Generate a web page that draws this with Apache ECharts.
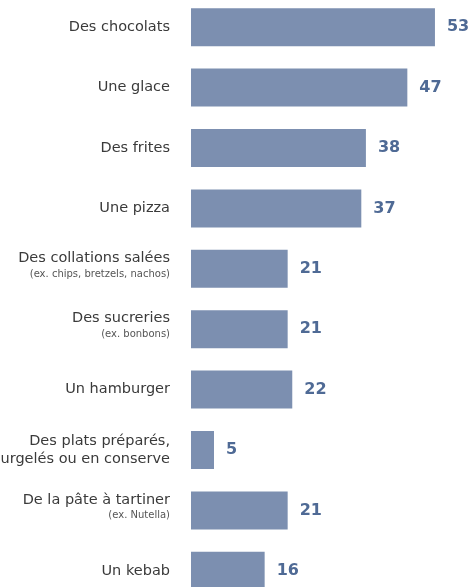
<!DOCTYPE html>
<html>
<head>
<meta charset="utf-8">
<script src="https://cdn.jsdelivr.net/npm/echarts@6/dist/echarts.min.js"></script>
<style>
  html, body { margin: 0; padding: 0; background: #ffffff; }
  #chart { width: 475px; height: 587px; }
</style>
</head>
<body>
<div id="chart"></div>
<script>
// Food items, top to bottom
const categories = [
  'Des chocolats',
  'Une glace',
  'Des frites',
  'Une pizza',
  'Des collations salées',
  'Des sucreries',
  'Un hamburger',
  'Des plats préparés,\nsurgelés ou en conserve',
  'De la pâte à tartiner',
  'Un kebab'
];
// Small print shown under some item names
const notes = [
  '', '', '', '',
  '(ex. chips, bretzels, nachos)',
  '(ex. bonbons)',
  '', '',
  '(ex. Nutella)',
  ''
];
const values = [53, 47, 38, 37, 21, 21, 22, 5, 21, 16];

const noteFor = {};
categories.forEach((c, i) => { noteFor[c] = notes[i]; });

const chart = echarts.init(document.getElementById('chart'));
chart.setOption({
  backgroundColor: '#ffffff',
  animation: false,
  grid: {
    left: 191, top: -3, height: 604, width: 284,
    containLabel: false,
    outerBoundsMode: 'none'
  },
  xAxis: {
    type: 'value',
    min: 0,
    max: 61.7,
    show: false
  },
  yAxis: {
    type: 'category',
    inverse: true,
    data: categories,
    axisLine: { show: false },
    axisTick: { show: false },
    axisLabel: {
      margin: 21,
      align: 'right',
      fontFamily: 'DejaVu Sans',
      fontSize: 14.5,
      color: '#3a3a3a',
      lineHeight: 18,
      formatter: function (v) {
        const n = noteFor[v];
        return n ? '{m|' + v + '}\n{s|' + n + '}' : v;
      },
      rich: {
        m: { fontSize: 14.5, color: '#3a3a3a', fontFamily: 'DejaVu Sans', lineHeight: 11, align: 'right' },
        s: { fontSize: 10, color: '#555555', fontFamily: 'DejaVu Sans', lineHeight: 21, align: 'right' }
      }
    }
  },
  series: [{
    type: 'bar',
    data: values,
    barWidth: 38,
    itemStyle: { color: '#7c8fb0' },
    label: {
      show: true,
      position: 'right',
      distance: 12,
      fontFamily: 'DejaVu Sans',
      fontWeight: 'bold',
      fontSize: 16,
      color: '#4f6a95'
    }
  }]
});
</script>
</body>
</html>
